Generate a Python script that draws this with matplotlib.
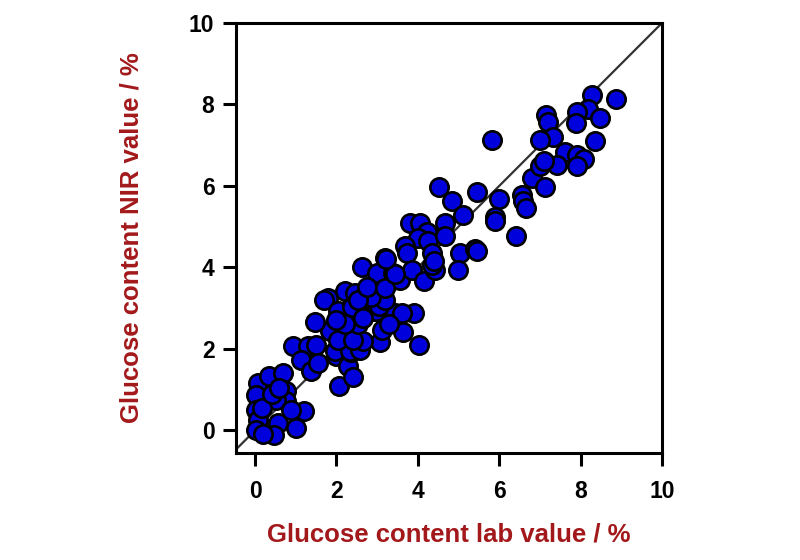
import matplotlib
matplotlib.use("Agg")
import matplotlib.pyplot as plt

# lab value (x) vs NIR value (y)
lab_value = [
    0.07, 0.03, 0.35, 0.68, 0.76, 0.76, 0.52, 0.03, 0.07, 0.03, 0.56, 1.01, 1.21, 0.47, 0.19, 0.89, 0.16, 0.41, 0.60,
    0.93, 1.29, 1.50, 1.13, 1.38, 1.54, 2.07, 1.99, 2.29, 2.41, 2.35, 1.97, 2.33, 2.58, 2.25, 3.07, 3.11, 2.50,
    1.84, 1.47, 2.04, 2.66, 2.41,
    1.80, 1.69, 2.21, 2.46, 2.33, 2.91, 3.44, 2.78, 3.15, 2.62, 2.99, 3.19, 3.40, 2.54, 2.04, 2.39, 2.98, 3.04,
    3.19, 2.85, 2.54, 3.91, 3.60, 3.64, 4.04, 3.56, 2.74, 3.19, 2.66, 2.20, 2.00, 3.30,
    3.81, 4.05, 4.22, 4.01, 3.69, 4.26, 4.34, 3.73, 3.85, 4.14, 4.42, 4.35, 4.41, 3.44, 3.22,
    4.67, 4.67, 5.04, 4.99, 5.41, 5.46, 4.51, 4.83, 5.12, 5.46, 6.00, 5.90, 5.90, 6.41, 6.55, 6.59, 6.66, 6.80, 7.12,
    8.87, 8.27, 8.17, 7.91, 8.48, 7.88, 7.16, 7.19, 7.33, 7.01, 8.36, 5.83, 7.62, 7.90, 8.08, 7.90, 7.41, 7.00, 7.10,
]
nir_value = [
    1.16, 0.88, 1.33, 1.41, 0.96, 0.71, 0.75, 0.51, 0.26, 0.02, 0.18, 0.06, 0.47, -0.11, -0.08, 0.50, 0.55, 0.90, 1.05,
    2.06, 2.08, 2.10, 1.73, 1.45, 1.66, 1.08, 1.82, 1.57, 1.31, 1.92, 1.94, 1.94, 1.98, 2.31, 2.18, 2.47, 2.64,
    2.43, 2.67, 2.23, 2.19, 2.23,
    3.25, 3.19, 3.41, 3.37, 3.00, 2.92, 2.88, 3.49, 3.53, 4.02, 3.86, 4.23, 3.86, 2.62, 2.93, 3.02, 2.93, 3.06,
    3.19, 3.28, 3.19, 2.89, 2.89, 2.41, 2.10, 3.70, 3.53, 3.50, 2.75, 2.60, 2.70, 2.60,
    5.09, 5.09, 4.88, 4.72, 4.52, 4.66, 4.35, 4.35, 3.94, 3.66, 3.94, 4.05, 4.16, 3.85, 4.20,
    5.09, 4.76, 4.35, 3.94, 4.45, 4.40, 5.98, 5.62, 5.29, 5.84, 5.68, 5.25, 5.13, 4.78, 5.78, 5.62, 5.46, 6.19, 5.97,
    8.14, 8.24, 7.89, 7.81, 7.67, 7.54, 7.75, 7.58, 7.21, 7.12, 7.11, 7.12, 6.83, 6.76, 6.65, 6.50, 6.52, 6.50, 6.62,
]
ticks = [0, 2, 4, 6, 8, 10]

label_color = "#a3191b"
tick_font = ["Liberation Sans Narrow", "Liberation Sans", "DejaVu Sans"]

fig = plt.figure(figsize=(8, 5.6), dpi=100)
ax = fig.add_axes([0.295, 0.191, 0.5325, 0.768])

ax.plot([-0.6, 10], [-0.6, 10], color="#333333", lw=1.6, zorder=1)
ax.scatter(lab_value, nir_value, s=175, facecolor="#0000dc", edgecolor="black",
           linewidth=1.9, zorder=2)

ax.set_xlim(-0.467, 10)
ax.set_ylim(-0.555, 10)
ax.set_xticks(ticks)
ax.set_yticks(ticks)
ax.set_xticklabels([str(t) for t in ticks], fontsize=16.5, fontweight="bold", family=tick_font)
ax.set_yticklabels([str(t) for t in ticks], fontsize=16.5, fontweight="bold", family=tick_font)
ax.tick_params(direction="out", length=9.5, width=2.2, color="black")
ax.tick_params(axis="x", pad=10)
ax.tick_params(axis="y", pad=6)

for sp in ax.spines.values():
    sp.set_linewidth(2.2)
    sp.set_color("black")

ax.set_xlabel("Glucose content lab value / %", fontsize=18.5, fontweight="bold",
              color=label_color, family="Liberation Sans", labelpad=14)
ax.set_ylabel("Glucose content NIR value / %", fontsize=18.5, fontweight="bold",
              color=label_color, family="Liberation Sans", labelpad=33)

fig.savefig("out.png", dpi=100)
